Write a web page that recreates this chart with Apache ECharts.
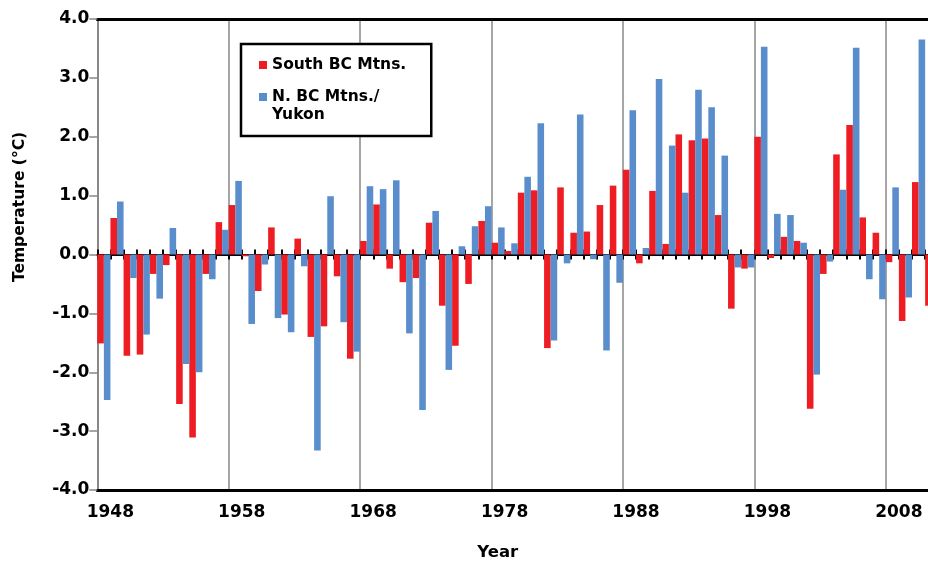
<!DOCTYPE html>
<html>
<head>
<meta charset="utf-8">
<script src="https://cdn.jsdelivr.net/npm/echarts@6/dist/echarts.min.js"></script>
<style>
html,body{margin:0;padding:0;background:#fff;}
#chart{width:928px;height:561px;}
</style>
</head>
<body>
<div id="chart"></div>
<script>
const years = [];
for (let y = 1948; y <= 2011; y++) years.push(String(y));

const southBC = [
  -1.51, 0.62, -1.72, -1.70, -0.33, -0.18, -2.54, -3.11, -0.33, 0.55,
  0.84, -0.03, -0.62, 0.46, -1.02, 0.27, -1.40, -1.22, -0.37, -1.77,
  0.23, 0.85, -0.24, -0.47, -0.40, 0.54, -0.87, -1.55, -0.50, 0.57,
  0.20, 0.06, 1.05, 1.09, -1.59, 1.14, 0.37, 0.39, 0.84, 1.17,
  1.44, -0.15, 1.08, 0.18, 2.04, 1.94, 1.97, 0.67, -0.92, -0.24,
  2.00, -0.06, 0.30, 0.23, -2.62, -0.33, 1.70, 2.20, 0.63, 0.37,
  -0.13, -1.13, 1.23, -0.87
];
const northBCYukon = [
  -2.47, 0.90, -0.40, -1.36, -0.75, 0.45, -1.86, -2.00, -0.42, 0.42,
  1.25, -1.18, -0.17, -1.08, -1.32, -0.20, -3.33, 0.99, -1.15, -1.65,
  1.16, 1.11, 1.26, -1.34, -2.64, 0.74, -1.96, 0.14, 0.48, 0.82,
  0.46, 0.19, 1.32, 2.23, -1.46, -0.15, 2.38, -0.08, -1.63, -0.48,
  2.45, 0.11, 2.98, 1.85, 1.05, 2.80, 2.50, 1.68, -0.22, -0.22,
  3.53, 0.69, 0.67, 0.20, -2.04, -0.12, 1.10, 3.51, -0.42, -0.76,
  1.14, -0.73, 3.65, null
];
const yTicks = { min: -4, max: 4, step: 1 };
const seriesNames = ['South BC Mtns.', 'N. BC Mtns./\nYukon'];

const FONT = 'DejaVu Sans';
const chart = echarts.init(document.getElementById('chart'));
chart.setOption({
  animation: false,
  backgroundColor: '#fff',
  textStyle: { fontFamily: FONT },
  grid: { left: 97.3, right: -10.3, top: 19, bottom: 71, containLabel: false, outerBoundsMode: 'none' },
  legend: {
    orient: 'vertical',
    left: 241, top: 44,
    padding: [12, 25, 12, 18],
    itemGap: -4,
    itemWidth: 8, itemHeight: 8,
    borderColor: '#000', borderWidth: 2.5,
    backgroundColor: '#fff',
    icon: 'rect',
    textStyle: { fontFamily: FONT, fontWeight: 'bold', fontSize: 15.5, color: '#000', lineHeight: 18 },
    formatter: function (name) { return name === seriesNames[1] ? '\n' + name : name; },
    data: seriesNames
  },
  xAxis: [
    {
      type: 'category', data: years, position: 'bottom',
      boundaryGap: true,
      axisLine: { onZero: false, lineStyle: { color: '#000', width: 3 } },
      axisTick: { show: false },
      axisLabel: {
        interval: function (i) { return i % 10 === 0; },
        color: '#000', fontFamily: FONT, fontWeight: 'bold', fontSize: 17,
        margin: 14, padding: [0, 0, 0, 13]
      },
      splitLine: {
        show: true,
        interval: function (i) { return i % 10 === 0; },
        lineStyle: { color: '#888', width: 1.5 }
      },
      name: 'Year', nameLocation: 'middle', nameGap: 54,
      nameTextStyle: { color: '#000', fontFamily: FONT, fontWeight: 'bold', fontSize: 16.5, padding: [0, 40, 0, 0] }
    },
    {
      type: 'category', data: years, position: 'bottom',
      axisLine: { onZero: true, onZeroAxisIndex: 0, lineStyle: { color: '#000', width: 2 } },
      axisTick: { show: true, interval: 0, length: 5, lineStyle: { color: '#000', width: 2 } },
      axisLabel: { show: false }, splitLine: { show: false }
    },
    {
      type: 'category', data: years, position: 'top',
      axisLine: { onZero: true, onZeroAxisIndex: 0, lineStyle: { color: '#000', width: 2 } },
      axisTick: { show: true, interval: 0, length: 5, lineStyle: { color: '#000', width: 2 } },
      axisLabel: { show: false }, splitLine: { show: false }
    },
    {
      type: 'category', data: years, position: 'top',
      axisLine: { onZero: false, lineStyle: { color: '#000', width: 3 } },
      axisTick: { show: false }, axisLabel: { show: false }, splitLine: { show: false }
    }
  ],
  yAxis: {
    type: 'value', min: yTicks.min, max: yTicks.max, interval: yTicks.step,
    axisLine: { show: true, onZero: false, lineStyle: { color: '#888', width: 2 } },
    axisTick: { show: true, length: 8, lineStyle: { color: '#888', width: 1.5 } },
    splitLine: { show: false },
    axisLabel: {
      formatter: function (v) { return v.toFixed(1); },
      color: '#000', fontFamily: FONT, fontWeight: 'bold', fontSize: 17, margin: 8
    },
    name: 'Temperature (°C)', nameLocation: 'middle', nameGap: 69, nameRotate: 90,
    nameTextStyle: { color: '#000', fontFamily: FONT, fontWeight: 'bold', fontSize: 15.5, padding: [0, 0, 0, 95] }
  },
  series: [
    {
      name: seriesNames[0], type: 'bar', xAxisIndex: 0, data: southBC,
      barCategoryGap: '0%', barGap: '0%',
      itemStyle: { color: '#EE1D23' }
    },
    {
      name: seriesNames[1], type: 'bar', xAxisIndex: 0, data: northBCYukon,
      barCategoryGap: '0%', barGap: '0%',
      itemStyle: { color: '#5A8DCB' }
    }
  ]
});
</script>
</body>
</html>
